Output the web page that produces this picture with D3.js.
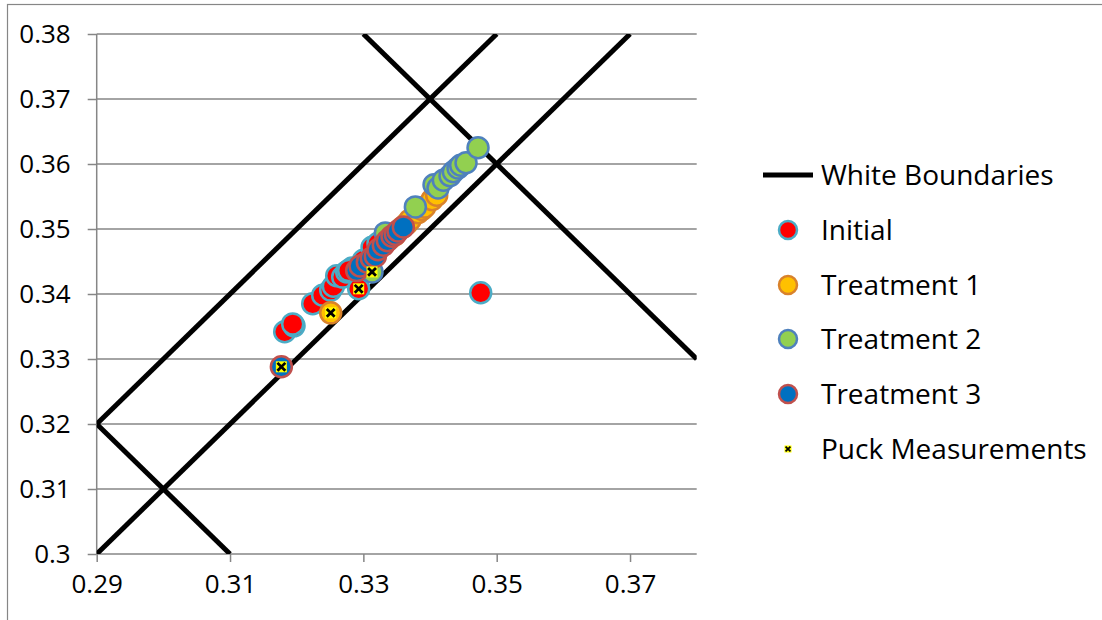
<!DOCTYPE html>
<html>
<head>
<meta charset="utf-8">
<script src="https://cdn.jsdelivr.net/npm/d3@7"></script>
<style>
  body { margin:0; background:#fff; }
  svg { display:block; font-family:"Open Sans", sans-serif; }
</style>
</head>
<body>
<div id="chart-area"></div>
<script>
// tick values
var xTicks = [0.29, 0.31, 0.33, 0.35, 0.37];
var yTicks = [0.30, 0.31, 0.32, 0.33, 0.34, 0.35, 0.36, 0.37, 0.38];

// white boundary segments [x1, y1, x2, y2]
var boundaries = [
    [0.29, 0.30, 0.37, 0.38],
    [0.29, 0.32, 0.35, 0.38],
    [0.29, 0.32, 0.31, 0.30],
    [0.33, 0.38, 0.38, 0.33]
];

var initialX = [0.3182, 0.3196, 0.3194, 0.3224, 0.3239, 0.3251, 0.3255, 0.3260, 0.3269, 0.3275, 0.3283, 0.3278, 0.3293, 0.3300, 0.3313, 0.3322, 0.3476];
var initialY = [0.3342, 0.3351, 0.3354, 0.3385, 0.3398, 0.3406, 0.3412, 0.3428, 0.3426, 0.3434, 0.3440, 0.3436, 0.3408, 0.3452, 0.3472, 0.3478, 0.3402];

var t1X = [0.3251, 0.3340, 0.3347, 0.3358, 0.3365, 0.3370, 0.3382, 0.3388, 0.3392, 0.3403, 0.3410];
var t1Y = [0.3371, 0.3486, 0.3491, 0.3502, 0.3508, 0.3514, 0.3525, 0.3530, 0.3534, 0.3545, 0.3552];

var t2X = [0.3313, 0.3333, 0.3378, 0.3406, 0.3412, 0.3420, 0.3430, 0.3435, 0.3442, 0.3446, 0.3454, 0.3472];
var t2Y = [0.3434, 0.3494, 0.3534, 0.3568, 0.3563, 0.3575, 0.3582, 0.3588, 0.3594, 0.3598, 0.3602, 0.3625];

var t3X = [0.3177, 0.3290, 0.3295, 0.3306, 0.3312, 0.3318, 0.3322, 0.3330, 0.3336, 0.3343, 0.3348, 0.3352, 0.3360];
var t3Y = [0.3288, 0.3436, 0.3443, 0.3449, 0.3455, 0.3458, 0.3468, 0.3475, 0.3482, 0.3489, 0.3492, 0.3497, 0.3503];

var puckX = [0.3177, 0.3251, 0.3293, 0.3313];
var puckY = [0.3288, 0.3371, 0.3408, 0.3434];

var seriesNames = ["Initial", "Treatment 1", "Treatment 2", "Treatment 3"];
var seriesFill = ["#ff0000", "#ffc000", "#92d050", "#0070c0"];
var seriesStroke = ["#4bacc6", "#d9822b", "#4f81bd", "#c0504d"];

var W = 1102, H = 620;
var margin = { left: 96.7, right: 405.3, top: 34, bottom: 66 };
var width = W - margin.left - margin.right,
    height = H - margin.top - margin.bottom;

var svg = d3.select("#chart-area").append("svg")
    .attr("width", W)
    .attr("height", H);

// outer chart border
svg.append("rect")
    .attr("x", 7.5).attr("y", 4.5)
    .attr("width", 1200).attr("height", 700)
    .attr("fill", "none")
    .attr("stroke", "#868686")
    .attr("stroke-width", 1.2);

var g = svg.append("g")
    .attr("transform", "translate(" + margin.left + "," + margin.top + ")");

var x = d3.scaleLinear().domain([0.29, 0.38]).range([0, width]);
var y = d3.scaleLinear().domain([0.30, 0.38]).range([height, 0]);

// gridlines
g.append("g").selectAll("line")
    .data(yTicks.slice(1))
    .enter().append("line")
    .attr("x1", 0).attr("x2", width)
    .attr("y1", function(d){ return y(d); })
    .attr("y2", function(d){ return y(d); })
    .attr("stroke", "#868686")
    .attr("stroke-width", 1.5);

var xAxis = g.append("g")
    .attr("transform", "translate(0," + height + ")")
    .call(d3.axisBottom(x).tickValues(xTicks).tickSize(8).tickPadding(13)
        .tickFormat(function(d){ return d3.format(".2f")(d); }));

var yAxis = g.append("g")
    .call(d3.axisLeft(y).tickValues(yTicks).tickSize(9).tickPadding(17)
        .tickFormat(function(d){ return d === 0.3 ? "0.3" : d3.format(".2f")(d); }));

[xAxis, yAxis].forEach(function(a){
    a.select(".domain").attr("stroke", "#868686").attr("stroke-width", 1.5);
    a.selectAll(".tick line").attr("stroke", "#868686").attr("stroke-width", 1.5);
    a.selectAll("text").attr("font-family", "Open Sans").attr("font-size", "26px").attr("fill", "#000");
});
xAxis.select(".domain").attr("d", "M0,0H" + width);
yAxis.select(".domain").attr("d", "M0,0V" + height);

// clip
g.append("clipPath").attr("id", "clip")
    .append("rect").attr("width", width).attr("height", height);

g.append("g").attr("clip-path", "url(#clip)")
    .selectAll("line")
    .data(boundaries)
    .enter().append("line")
    .attr("x1", function(d){ return x(d[0]); })
    .attr("y1", function(d){ return y(d[1]); })
    .attr("x2", function(d){ return x(d[2]); })
    .attr("y2", function(d){ return y(d[3]); })
    .attr("stroke", "#000")
    .attr("stroke-width", 5);

var seriesX = [initialX, t1X, t2X, t3X],
    seriesY = [initialY, t1Y, t2Y, t3Y];

seriesX.forEach(function(xs, s){
    var pts = xs.map(function(v, i){ return [v, seriesY[s][i]]; });
    g.append("g").selectAll("circle")
        .data(pts)
        .enter().append("circle")
        .attr("cx", function(d){ return x(d[0]); })
        .attr("cy", function(d){ return y(d[1]); })
        .attr("r", 10.5)
        .attr("fill", seriesFill[s])
        .attr("stroke", seriesStroke[s])
        .attr("stroke-width", 2.5);
});

function puckMarker(sel, size){
    sel.append("rect")
        .attr("x", -size/2).attr("y", -size/2)
        .attr("width", size).attr("height", size)
        .attr("fill", "#ffff00");
    sel.append("path")
        .attr("d", d3.symbol(d3.symbolX).size(size*size*0.35))
        .attr("stroke", "#000")
        .attr("stroke-width", size/4);
}

var pucks = puckX.map(function(v, i){ return [v, puckY[i]]; });
g.append("g").selectAll("g")
    .data(pucks)
    .enter().append("g")
    .attr("transform", function(d){ return "translate(" + x(d[0]) + "," + y(d[1]) + ")"; })
    .each(function(){ puckMarker(d3.select(this), 11); });

// legend
var legend = svg.append("g").attr("transform", "translate(763,0)");
var rowY = [175, 230, 285, 339, 394, 449];
var labels = ["White Boundaries"].concat(seriesNames).concat(["Puck Measurements"]);

legend.append("line")
    .attr("x1", 0).attr("x2", 50)
    .attr("y1", rowY[0]).attr("y2", rowY[0])
    .attr("stroke", "#000").attr("stroke-width", 5);

seriesNames.forEach(function(n, i){
    legend.append("circle")
        .attr("cx", 25).attr("cy", rowY[i+1])
        .attr("r", 9)
        .attr("fill", seriesFill[i])
        .attr("stroke", seriesStroke[i])
        .attr("stroke-width", 2.5);
});

puckMarker(legend.append("g").attr("transform", "translate(25," + rowY[5] + ")"), 7);

legend.selectAll("text.lbl")
    .data(labels)
    .enter().append("text")
    .attr("class", "lbl")
    .attr("x", 58)
    .attr("y", function(d, i){ return rowY[i]; })
    .attr("dy", "0.35em")
    .attr("font-size", "28px")
    .attr("fill", "#000")
    .text(function(d){ return d; });
</script>
</body>
</html>
